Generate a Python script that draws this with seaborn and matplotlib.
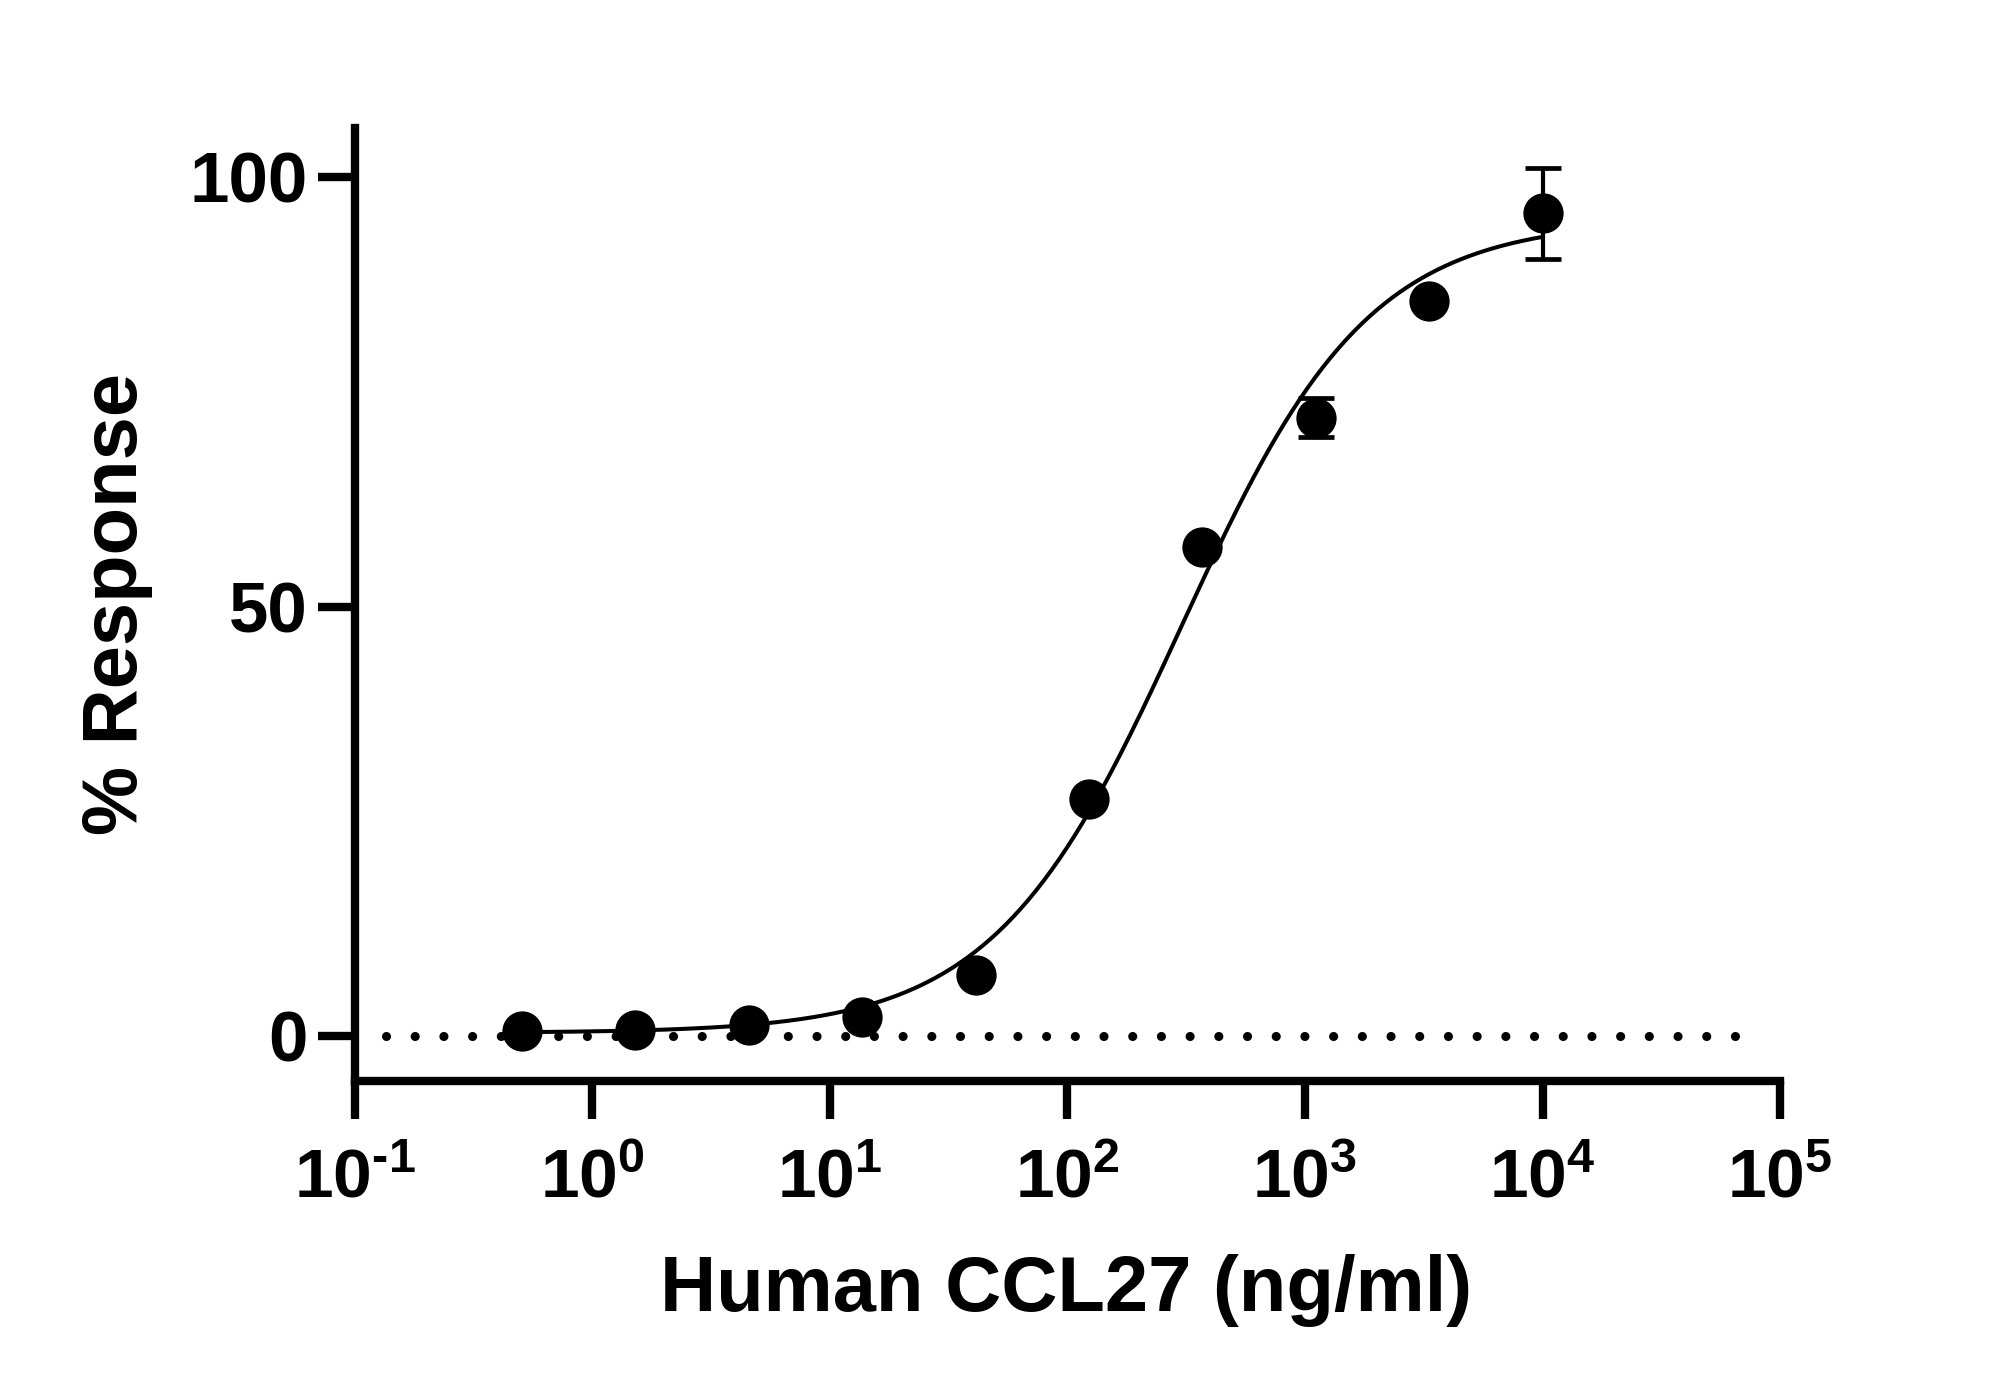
import numpy as np
import pandas as pd
import matplotlib
matplotlib.use("Agg")
import matplotlib.pyplot as plt
from matplotlib import font_manager
from matplotlib.ticker import FixedLocator, FixedFormatter, NullLocator
import seaborn as sns

# ---- data ----
conc_ng_ml = [0.508, 1.52, 4.57, 13.7, 41.2, 123.0, 370.0, 1111.0, 3333.0, 10000.0]
response_pct = [0.6, 0.7, 1.3, 2.2, 7.1, 27.6, 57.0, 72.0, 85.6, 95.8]
response_err = [0.0, 0.0, 0.0, 0.0, 0.0, 0.0, 0.0, 2.3, 0.0, 5.3]

# 4-parameter logistic fit
fit_bottom = 0.4
fit_top = 95.0
fit_log_ec50 = 2.48
fit_hill = 1.1

x_tick_exps = [-1, 0, 1, 2, 3, 4, 5]
y_ticks = [0, 50, 100]
y_tick_labels = ["0", "50", "100"]
x_label = "Human CCL27 (ng/ml)"
y_label = "% Response"

# ---- style / fonts ----
sns.set_style("ticks")

def has_font(name):
    try:
        font_manager.findfont(font_manager.FontProperties(family=name), fallback_to_default=False)
        return True
    except Exception:
        return False

narrow = "Liberation Sans Narrow" if has_font("Liberation Sans Narrow") else "Liberation Sans"
plt.rcParams["font.family"] = ["Liberation Sans", "DejaVu Sans"]
plt.rcParams["font.weight"] = "bold"
for k in ["text.color", "axes.labelcolor", "xtick.color", "ytick.color", "axes.edgecolor"]:
    plt.rcParams[k] = "black"
plt.rcParams["mathtext.fontset"] = "custom"
plt.rcParams["mathtext.rm"] = f"{narrow}:bold"
plt.rcParams["mathtext.bf"] = f"{narrow}:bold"
plt.rcParams["mathtext.it"] = f"{narrow}:bold"
plt.rcParams["mathtext.default"] = "bf"

fig = plt.figure(figsize=(19.99, 13.99), dpi=100)
ax = fig.add_axes([0.1774, 0.2273, 0.7131, 0.6812])
ax.set_xscale("log")

df = pd.DataFrame({"conc": conc_ng_ml, "resp": response_pct, "err": response_err})

# fitted curve over the data range
xs = np.logspace(np.log10(min(conc_ng_ml)), np.log10(max(conc_ng_ml)), 400)
ys = fit_bottom + (fit_top - fit_bottom) / (1 + 10 ** ((fit_log_ec50 - np.log10(xs)) * fit_hill))
curve = pd.DataFrame({"conc": xs, "resp": ys})

# zero reference dotted line
ax.axhline(0, xmin=0.022, xmax=0.984, color="black", lw=6.6,
           linestyle=(0, (0.001, 3.13)), dash_capstyle="round", zorder=1)

sns.lineplot(data=curve, x="conc", y="resp", ax=ax, color="black", lw=2.9, zorder=2)

ax.errorbar(df["conc"], df["resp"], yerr=df["err"], fmt="none", ecolor="black",
            elinewidth=3.0, capsize=13.3, capthick=3.4, zorder=3)

sns.scatterplot(data=df, x="conc", y="resp", ax=ax, color="black", s=29 ** 2,
                linewidth=0, zorder=4)

ax.set_xlim(10.0 ** x_tick_exps[0], 10.0 ** x_tick_exps[-1])
ax.set_ylim(-5.2, 105.7)

def sup_label(e):
    exp = (r"\text{-}%d" % abs(e)) if e < 0 else "%d" % e
    return r"$\mathbf{10^{%s}}$" % exp

ax.xaxis.set_major_locator(FixedLocator([10.0 ** e for e in x_tick_exps]))
ax.xaxis.set_major_formatter(FixedFormatter([sup_label(e) for e in x_tick_exps]))
ax.xaxis.set_minor_locator(NullLocator())
ax.yaxis.set_major_locator(FixedLocator(y_ticks))
ax.yaxis.set_major_formatter(FixedFormatter(y_tick_labels))

for s in ["top", "right"]:
    ax.spines[s].set_visible(False)
for s in ["left", "bottom"]:
    ax.spines[s].set_linewidth(6)
    ax.spines[s].set_capstyle("projecting")

ax.tick_params(axis="both", which="major", length=27, width=6, color="black")
ax.tick_params(axis="y", labelsize=51, pad=7)
ax.tick_params(axis="x", labelsize=50, pad=21)
for lab in ax.get_yticklabels():
    lab.set_fontweight("bold")

ax.set_xlabel(x_label, fontsize=56, fontweight="bold")
ax.set_ylabel(y_label, fontsize=56, fontweight="bold")
ax.xaxis.set_label_coords(0.499, -0.22)
ax.xaxis.label.set_va("center")
ax.yaxis.set_label_coords(-0.1668, 0.501)
ax.yaxis.label.set_va("center")
ax.yaxis.label.set_ha("center")

fig.savefig("out.png", dpi=100, facecolor="white")
